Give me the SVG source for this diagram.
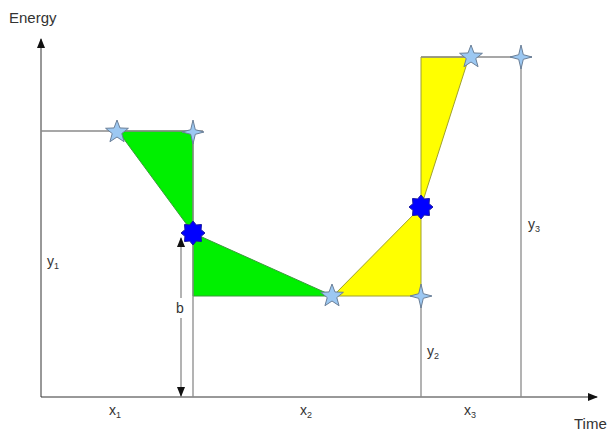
<svg xmlns="http://www.w3.org/2000/svg" width="615" height="432" viewBox="0 0 615 432">
<style>
.ax{stroke:#333;stroke-width:1;fill:none}
.ln{stroke:#8a8a8a;stroke-width:1.3;fill:none}
.g{fill:#00f000;stroke:#3a9a3a;stroke-width:1}
.yl{fill:#ffff00;stroke:#a0a030;stroke-width:1}
.s5{fill:#9cc8f2;stroke:#6a7f98;stroke-width:1}
.s4{fill:#9cc8f2;stroke:#6a7f98;stroke-width:1}
.s8{fill:#0000ff;stroke:#1a1aa0;stroke-width:1}
text{font-family:"Liberation Sans",Arial,sans-serif;fill:#333;font-size:14px}
.big{font-size:15px}
.sub{font-size:9px}
</style>
<defs>
<marker id="ah" markerWidth="10" markerHeight="10" refX="9" refY="5" orient="auto" markerUnits="userSpaceOnUse">
<path d="M0,1 L10,5 L0,9 Z" fill="#111"/>
</marker>
<polygon id="star5" points="0,-12 2.94,-4.05 11.41,-3.71 4.77,1.55 7.05,9.71 0,5.0 -7.05,9.71 -4.77,1.55 -11.41,-3.71 -2.94,-4.05"/>
<polygon id="star4" points="0,-12 2.3,-2.3 11,0 2.3,2.3 0,12 -2.3,2.3 -11,0 -2.3,-2.3"/>
<polygon id="star8" points="12,0 8.06,3.34 8.49,8.49 3.34,8.06 0,12 -3.34,8.06 -8.49,8.49 -8.06,3.34 -12,0 -8.06,-3.34 -8.49,-8.49 -3.34,-8.06 0,-12 3.34,-8.06 8.49,-8.49 8.06,-3.34"/>
</defs>
<rect width="615" height="432" fill="#fff"/>
<g id="regions">
<polygon id="green-top" class="g" points="118,131 193,131 193,233"/>
<polygon id="green-bottom" class="g" points="193,233 333,296 193,296"/>
<polygon id="yellow-bottom" class="yl" points="333,296 421,296 421,207"/>
<polygon id="yellow-top" class="yl" points="421,207 421,57 469,57"/>
</g>
<g id="connectors">
<line class="ax" x1="41" y1="397" x2="41" y2="39" marker-end="url(#ah)"/>
<line class="ax" x1="41" y1="397" x2="597" y2="397" marker-end="url(#ah)"/>
<line class="ln" x1="41" y1="131" x2="203" y2="131"/>
<line class="ln" x1="193" y1="131" x2="193" y2="397"/>
<line class="ln" x1="421" y1="296" x2="421" y2="397"/>
<line class="ln" x1="421" y1="57" x2="532" y2="57"/>
<line class="ln" x1="521" y1="57" x2="521" y2="397"/>
<line class="ln" x1="181" y1="298" x2="181" y2="238" marker-end="url(#ah)"/>
<line class="ln" x1="181" y1="318" x2="181" y2="396" marker-end="url(#ah)"/>
</g>
<g id="stars">
<use href="#star5" class="s5" x="117" y="132"/>
<use href="#star4" class="s4" x="193" y="132"/>
<use href="#star8" class="s8" x="193" y="233"/>
<use href="#star5" class="s5" x="332" y="296"/>
<use href="#star4" class="s4" x="421" y="296"/>
<use href="#star8" class="s8" x="421" y="207"/>
<use href="#star5" class="s5" x="471" y="57"/>
<use href="#star4" class="s4" x="521" y="57"/>
</g>
<g id="labels">
<text class="big" x="9" y="23">Energy</text>
<text class="big" x="574" y="429">Time</text>
<text x="176" y="313">b</text>
<text x="47" y="266">y<tspan class="sub" dy="3">1</tspan></text>
<text x="427" y="356">y<tspan class="sub" dy="3">2</tspan></text>
<text x="528" y="229">y<tspan class="sub" dy="3">3</tspan></text>
<text x="109" y="415">x<tspan class="sub" dy="3">1</tspan></text>
<text x="300" y="415">x<tspan class="sub" dy="3">2</tspan></text>
<text x="464" y="415">x<tspan class="sub" dy="3">3</tspan></text>
</g>
</svg>
